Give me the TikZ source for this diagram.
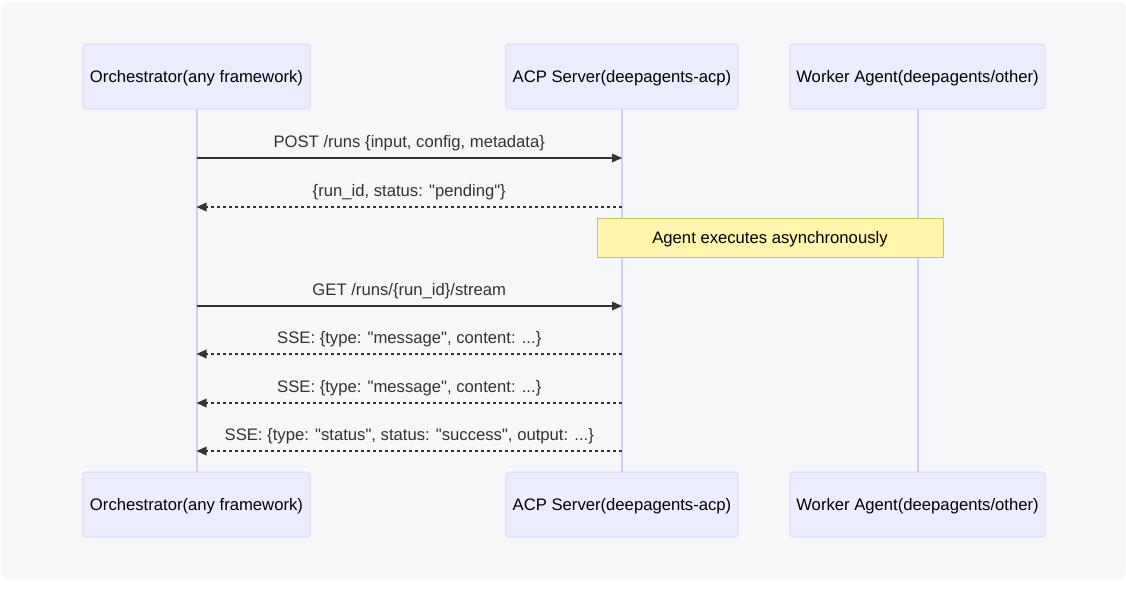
\documentclass[tikz,border=0pt]{standalone}
\usepackage{fontspec}
\setmainfont{Liberation Sans}[Ligatures = TeXOff]
\usetikzlibrary{arrows.meta}
\definecolor{bgcol}{HTML}{F6F7F9}
\definecolor{actfill}{HTML}{ECECFF}
\definecolor{actline}{HTML}{D6CCF5}
\definecolor{notefill}{HTML}{FFF5AD}
\definecolor{noteline}{HTML}{C8C36A}
\definecolor{msgcol}{HTML}{333333}
\tikzset{
  actor/.style = {draw = actline, fill = actfill, rounded corners = 2pt, minimum height = 48.75pt, inner sep = 0pt, text depth = 0pt, font = \fontsize{12.5}{14}\selectfont},
  life/.style = {draw = actline, line width = 1.5pt},
  msg/.style = {draw = msgcol, line width = 0.9pt, -{Triangle[length = 7.5pt, width = 6.5pt]}},
  reply/.style = {msg, dash pattern = on 2.25pt off 2.25pt},
  lbl/.style = {text = msgcol, font = \fontsize{12.5}{14}\selectfont, inner sep = 0pt},
  notebox/.style = {draw = noteline, fill = notefill, minimum width = 259.5pt, minimum height = 29.25pt, text depth = 0pt, font = \fontsize{12.5}{14}\selectfont}
}
\begin{document}
\begin{tikzpicture}[x = 0.75pt, y = -0.75pt]
\useasboundingbox (0, 0) rectangle (1126, 590);
\fill[white] (0, 0) rectangle (1126, 590);
\fill[bgcol, rounded corners = 5pt] (1, 2) rectangle (1125, 580);
% actors
\node[actor, minimum width = 170.25pt] (orchT) at (196.5, 76.5) {Orchestrator(any framework)};
\node[actor, minimum width = 174pt] (acpT) at (622, 76.5) {ACP Server(deepagents-acp)};
\node[actor, minimum width = 191.25pt] (workT) at (917.5, 76.5) {Worker Agent(deepagents/other)};
\node[actor, minimum width = 170.25pt] (orchB) at (196.5, 504.5) {Orchestrator(any framework)};
\node[actor, minimum width = 174pt] (acpB) at (622, 504.5) {ACP Server(deepagents-acp)};
\node[actor, minimum width = 191.25pt] (workB) at (917.5, 504.5) {Worker Agent(deepagents/other)};
% lifelines
\draw[life] (orchT) -- (orchB);
\draw[life] (acpT) -- (acpB);
\draw[life] (workT) -- (workB);
% message points
\coordinate (o1) at (196.5, 158); \coordinate (a1) at (622, 158);
\coordinate (o2) at (196.5, 207); \coordinate (a2) at (622, 207);
\coordinate (o3) at (196.5, 306); \coordinate (a3) at (622, 306);
\coordinate (o4) at (196.5, 354); \coordinate (a4) at (622, 354);
\coordinate (o5) at (196.5, 403); \coordinate (a5) at (622, 403);
\coordinate (o6) at (196.5, 451); \coordinate (a6) at (622, 451);
% messages
\draw[msg] (o1) -- node[lbl, above = 4.5pt] {POST /runs \{input, config, metadata\}} (a1);
\draw[reply] (a2) -- node[lbl, above = 4.5pt] {\{run\_id, status: "pending"\}} (o2);
\node[notebox] (note) at (770, 237.5) {Agent executes asynchronously};
\draw[msg] (o3) -- node[lbl, above = 4.5pt] {GET /runs/\{run\_id\}/stream} (a3);
\draw[reply] (a4) -- node[lbl, above = 4.5pt] {SSE: \{type: "message", content: ...\}} (o4);
\draw[reply] (a5) -- node[lbl, above = 4.5pt] {SSE: \{type: "message", content: ...\}} (o5);
\draw[reply] (a6) -- node[lbl, above = 4.5pt] {SSE: \{type: "status", status: "success", output: ...\}} (o6);
\end{tikzpicture}
\end{document}
